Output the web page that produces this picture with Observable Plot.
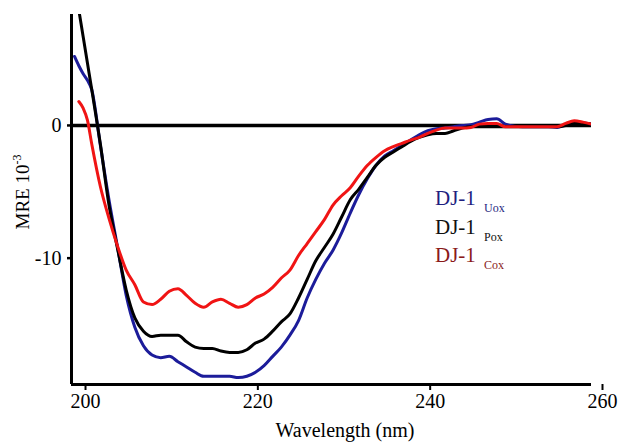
<!DOCTYPE html>
<html><head><meta charset="utf-8">
<script src="https://cdn.jsdelivr.net/npm/d3@7"></script>
<script src="https://cdn.jsdelivr.net/npm/@observablehq/plot@0.6"></script>
<style>body{margin:0;background:#fff}#chart svg{display:block}</style>
</head><body><div id="chart"></div>
<script>
const wavelength = [200,200.5,201,201.5,202,203,204,205,206,207,208,209,210,211,212,213,214,215,216,217,218,219,220,221,222,223,224,225,226,227,228,229,230,231,232,233,234,235,236,237,238,239,240,241,242,243,244,245,246,247,248,249,250,251,252,253,254,255,256,257,258,259,260];
const uox = [5.2,4.5,3.9,3.4,2.7,-1.5,-5.6,-9.2,-12.8,-15.2,-16.6,-17.3,-17.5,-17.4,-17.8,-18.2,-18.6,-18.9,-18.9,-18.9,-18.9,-19.0,-18.9,-18.6,-18.1,-17.4,-16.7,-15.8,-14.7,-13.0,-11.6,-10.4,-9.4,-8.1,-6.6,-5.2,-4.0,-3.0,-2.3,-1.9,-1.5,-1.1,-0.7,-0.4,-0.25,-0.2,-0.1,0,0.05,0.25,0.45,0.5,0.1,-0.05,-0.1,-0.1,-0.1,-0.1,-0.15,0.05,0.25,0.2,0.1];
const pox = [10.7,8.7,6.7,4.7,2.7,-1.4,-6.0,-9.3,-12.4,-14.5,-15.5,-15.9,-15.8,-15.8,-15.8,-16.3,-16.7,-16.8,-16.8,-17.0,-17.1,-17.1,-16.9,-16.4,-16.1,-15.5,-14.8,-14.2,-13.0,-11.6,-10.2,-9.2,-8.2,-6.9,-5.6,-4.8,-3.9,-3.0,-2.4,-2.0,-1.6,-1.2,-0.9,-0.7,-0.6,-0.6,-0.4,-0.2,-0.1,-0.1,-0.1,-0.1,-0.1,-0.1,-0.1,-0.1,-0.1,-0.1,-0.1,0.0,0.2,0.15,0.1];
const cox = [null,1.8,1.3,0.4,-1.4,-4.6,-7.0,-9.1,-10.9,-12.0,-13.3,-13.5,-13.1,-12.5,-12.3,-12.8,-13.4,-13.7,-13.3,-13.1,-13.4,-13.7,-13.5,-13.0,-12.7,-12.2,-11.5,-10.9,-9.8,-8.9,-8.0,-7.1,-6.0,-5.3,-4.7,-3.8,-3.0,-2.4,-1.9,-1.6,-1.35,-1.1,-0.9,-0.6,-0.35,-0.2,-0.2,-0.2,-0.15,0.1,0.15,0.15,-0.1,-0.1,-0.1,-0.1,-0.1,-0.1,-0.1,0.15,0.35,0.25,0.1];
const seriesNames = ["Uox","Pox","Cox"];
const lineColors = ["#1c1c9a","#000000","#f01414"];
const textColors = ["#1f1f80","#111111","#8a1a1a"];
const xTicks = [200,220,240,260];
const yTicks = [0,-10];
const xDomain = [199.65,260];
const yDomain = [-19.52,8.36];

const seriesValues = [uox, pox, cox];
const rows = seriesValues.map((vals) =>
  wavelength.map((w, i) => ({w, v: vals[i]})).filter(d => d.v != null));

const font = "'Liberation Serif','Times New Roman',serif";
const plot = Plot.plot({
  width: 618, height: 444,
  marginLeft: 71, marginRight: 27, marginTop: 14, marginBottom: 60,
  style: {fontFamily: font, fontSize: "20px", color: "#000", background: "#fff"},
  x: {domain: xDomain},
  y: {domain: yDomain},
  marks: [
    Plot.ruleY([0], {stroke: "#000", strokeWidth: 3.5}),
    Plot.axisX({ticks: xTicks, tickSize: 6, tickPadding: 3, strokeWidth: 2, fontSize: 20, dx: 11, label: null, tickFormat: d => String(d)}),
    Plot.axisY({ticks: yTicks, tickSize: 4, tickPadding: 6, strokeWidth: 2.5, fontSize: 20, label: null, tickFormat: d => d === 0 ? "0" : "-" + Math.abs(d)}),
    ...rows.map((r, k) => Plot.line(r, {x: "w", y: "v", stroke: lineColors[k], strokeWidth: 3, curve: "monotone-x", clip: true})),
    Plot.ruleX([xDomain[0]], {stroke: "#000", strokeWidth: 3}),
    Plot.ruleY([yDomain[0]], {stroke: "#000", strokeWidth: 3})
  ]
});
document.getElementById("chart").appendChild(plot);

const svg = d3.select(plot);
svg.append("text").attr("x", 345).attr("y", 437).attr("text-anchor", "middle")
  .attr("font-size", 20).attr("fill", "#000").text("Wavelength (nm)");
const yl = svg.append("text").attr("transform", "translate(29,192) rotate(-90)")
  .attr("text-anchor", "middle").attr("font-size", 19).attr("fill", "#000");
yl.append("tspan").text("MRE 10");
yl.append("tspan").attr("font-size", 12).attr("dy", -8).text("-3");

const legendY = [205, 234, 262];
seriesNames.forEach((name, k) => {
  const t = svg.append("text").attr("x", 435).attr("y", legendY[k]).attr("fill", textColors[k])
    .attr("font-size", 21).attr("text-anchor", "start");
  t.append("tspan").text("DJ-1");
  t.append("tspan").attr("x", 484).attr("dy", 7).attr("font-size", 12).text(name);
});
</script></body></html>
